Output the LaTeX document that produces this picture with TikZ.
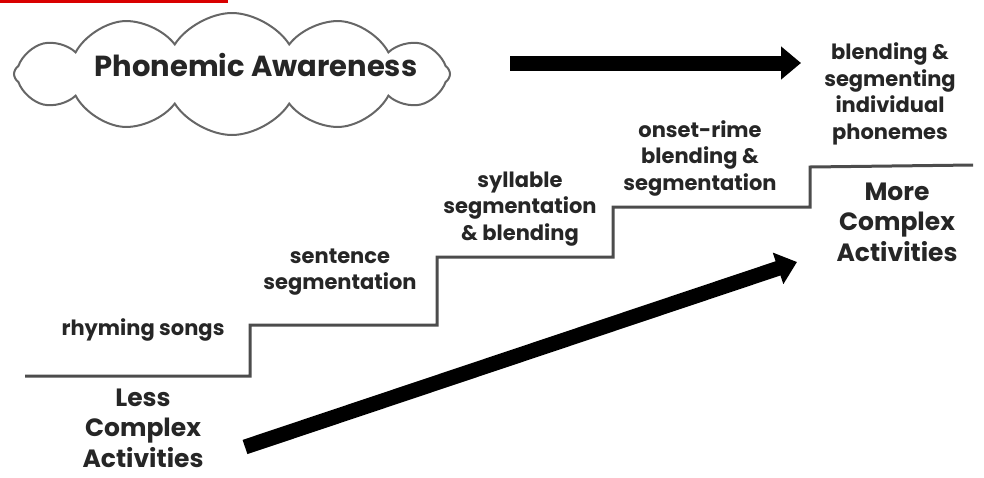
\documentclass[tikz,border=0pt]{standalone}
\usepackage{fontspec}
\setmainfont{Poppins}[BoldFont={* Bold}]
\usetikzlibrary{shapes.symbols,arrows.meta}
\begin{document}
\begin{tikzpicture}[x=1pt,y=-1pt,
  lbl/.style={font=\bfseries\fontsize{21}{26.5}\selectfont, align=center, text=black!85, inner sep=0pt},
  big/.style={font=\bfseries\fontsize{25}{30.5}\selectfont, align=center, text=black!85, inner sep=0pt},
  fat/.style={line width=15pt, -{Triangle[length=20pt,width=32pt]}},
  stair/.style={line width=3pt, draw=black!70, line join=miter}
]
\useasboundingbox (0,0) rectangle (984,477);
\fill[red!85!black] (0,0) rectangle (228,3);
\node[cloud, cloud puffs=12, cloud puff arc=115, aspect=3.6, draw=black!60, line width=2pt,
  minimum width=436pt, minimum height=122pt, inner sep=0pt] (pa) at (232,74) {};
\node[font=\bfseries\fontsize{29}{34}\selectfont, text=black!85] (pat) at (256,65) {Phonemic Awareness};
\node[lbl] (blend) at (890,94) {blending \&\\segmenting\\individual\\phonemes};
\node[lbl] (onset) at (700,158) {onset-rime\\blending \&\\segmentation};
\node[lbl] (syl) at (520,209) {syllable\\segmentation\\\& blending};
\node[lbl] (sent) at (340,272) {sentence\\segmentation};
\node[lbl] (rhy) at (143,330) {rhyming songs};
\node[big] (less) at (143,428) {Less\\Complex\\Activities};
\node[big] (more) at (897,222) {More\\Complex\\Activities};
\coordinate (s0) at (25,376);
\coordinate (s1) at (250,376);
\coordinate (s2) at (250,325);
\coordinate (s3) at (437,325);
\coordinate (s4) at (437,257);
\coordinate (s5) at (613,257);
\coordinate (s6) at (613,207);
\coordinate (s7) at (810,207);
\coordinate (s8) at (810,167);
\coordinate (s9) at (973,165);
\draw[stair] (s0) -- (s1) -- (s2) -- (s3) -- (s4) -- (s5) -- (s6) -- (s7) -- (s8) -- (s9);
\coordinate (t0) at (510,63);
\coordinate (t1) at (801,63);
\draw[fat] (t0) -- (t1);
\coordinate (d0) at (245,447);
\coordinate (d1) at (797,262);
\draw[fat] (d0) -- (d1);
\end{tikzpicture}
\end{document}
